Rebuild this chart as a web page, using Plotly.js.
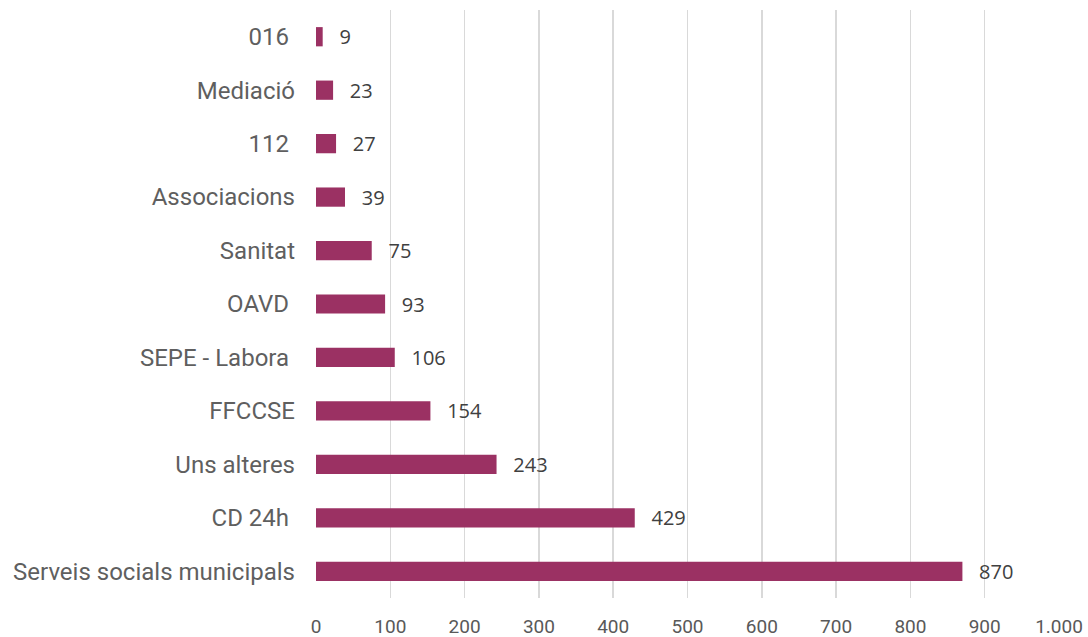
<!DOCTYPE html>
<html>
<head>
<meta charset="utf-8">
<script src="https://cdn.plot.ly/plotly-3.0.1.min.js"></script>
<style>
  html, body { margin: 0; padding: 0; background: #fff; }
  #plot { width: 1088px; height: 637px; }
</style>
</head>
<body>
<div id="plot"></div>
<script>
// categories bottom to top, as in the picture
var categories = ['Serveis socials municipals', 'CD 24h\u00a0', 'Uns alteres', 'FFCCSE',
  'SEPE - Labora\u00a0', 'OAVD\u00a0', 'Sanitat', 'Associacions', '112\u00a0', 'Mediació', '016\u00a0'];
var values = [870, 429, 243, 154, 106, 93, 75, 39, 27, 23, 9];

var trace = {
  type: 'bar',
  orientation: 'h',
  x: values,
  y: categories,
  marker: {color: '#9b3163'},
  text: values.map(function (v) { return '\u00a0\u00a0\u2009' + v; }),
  textposition: 'outside',
  constraintext: 'none',
  cliponaxis: false,
  textfont: {family: '"Open Sans", sans-serif', size: 20, color: '#404040'},
  hoverinfo: 'x+y'
};

var layout = {
  width: 1088,
  height: 637,
  margin: {l: 316, r: 29, t: 10, b: 39},
  paper_bgcolor: '#fff',
  plot_bgcolor: '#fff',
  separators: ',.',
  showlegend: false,
  bargap: 0.64,
  font: {family: 'Roboto, sans-serif', color: '#595959'},
  xaxis: {
    range: [0, 1000],
    dtick: 100,
    tick0: 0,
    tickformat: ',d',
    showgrid: true,
    gridcolor: '#d9d9d9',
    gridwidth: 1.5,
    zeroline: false,
    showline: false,
    ticks: '',
    ticklabelstandoff: 15,
    tickfont: {family: 'Roboto, sans-serif', size: 19, color: '#595959'},
    fixedrange: true
  },
  yaxis: {
    type: 'category',
    categoryorder: 'array',
    categoryarray: categories,
    showgrid: false,
    zeroline: false,
    showline: false,
    ticks: '',
    ticklabelstandoff: 20,
    tickfont: {family: 'Roboto, sans-serif', size: 24, color: '#5f5f5f'},
    fixedrange: true
  }
};

Plotly.newPlot('plot', [trace], layout, {displayModeBar: false, staticPlot: true});
</script>
</body>
</html>
